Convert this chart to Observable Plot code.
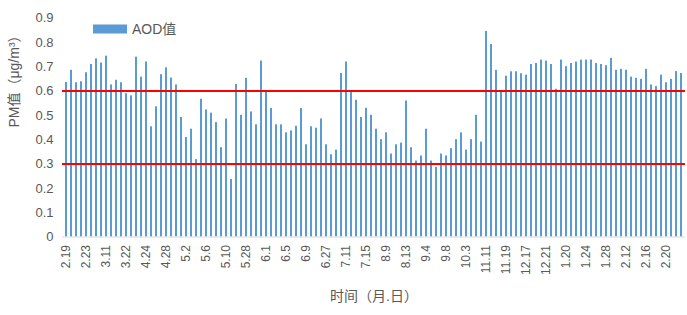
<!DOCTYPE html>
<html>
<head>
<meta charset="utf-8">
<script src="https://cdn.jsdelivr.net/npm/d3@7"></script>
<script src="https://cdn.jsdelivr.net/npm/@observablehq/plot@0.6"></script>
<style>
  html, body { margin: 0; padding: 0; background: #fff; }
  #chart { width: 687px; height: 315px; overflow: hidden; }
</style>
</head>
<body>
<div id="chart"></div>
<script>
// AOD values, one per observation date (124 bars)
const aodValues = [
  0.635,0.685,0.634,0.638,0.675,0.709,0.732,0.715,0.743,0.625,
  0.644,0.634,0.589,0.580,0.739,0.657,0.719,0.453,0.535,0.667,
  0.695,0.653,0.625,0.491,0.409,0.443,0.318,0.566,0.522,0.509,
  0.470,0.367,0.485,0.236,0.627,0.500,0.652,0.514,0.461,0.723,
  0.600,0.528,0.461,0.461,0.428,0.436,0.455,0.528,0.379,0.453,
  0.447,0.485,0.379,0.338,0.357,0.672,0.719,0.596,0.562,0.491,
  0.529,0.500,0.443,0.400,0.428,0.341,0.379,0.386,0.559,0.367,
  0.312,0.333,0.443,0.312,0.286,0.341,0.333,0.363,0.400,0.428,
  0.357,0.400,0.500,0.390,0.845,0.791,0.685,0.600,0.661,0.679,
  0.679,0.671,0.665,0.709,0.713,0.727,0.723,0.709,0.607,0.727,
  0.700,0.713,0.719,0.727,0.727,0.727,0.713,0.709,0.704,0.734,
  0.685,0.689,0.685,0.657,0.652,0.648,0.689,0.625,0.618,0.665,
  0.634,0.648,0.680,0.672
];
// Visible date tick labels (every 4th bar)
const tickLabels = [
  "2.19","2.23","3.11","3.22","4.24","4.28","5.2","5.6","5.10","5.28",
  "6.1","6.5","6.9","6.27","7.11","7.15","8.9","8.13","9.4","9.8",
  "10.3","11.11","11.19","12.17","12.21","1.20","1.24","1.28","2.12","2.16","2.20"
];
const tickEvery = 4;
const thresholds = [0.3, 0.6];
const yTicks = [0,0.1,0.2,0.3,0.4,0.5,0.6,0.7,0.8,0.9];
const seriesName = "AOD值";
const xTitle = "时间（月.日）";
const yTitle = "PM值（μg/m³）";

const data = aodValues.map((v, i) => ({i, v}));
const tickIdx = tickLabels.map((_, k) => k * tickEvery);

const font = "'Liberation Sans', 'Noto Sans CJK SC', sans-serif";
const grey = "#595959";

const plot = Plot.plot({
  width: 687,
  height: 315,
  marginLeft: 62,
  marginRight: 2,
  marginTop: 17.5,
  marginBottom: 78.5,
  style: {fontFamily: font, fontSize: "12px", color: grey, background: "#fff"},
  x: {type: "band", domain: d3.range(aodValues.length), padding: 0.6, label: null},
  y: {domain: [0, 0.9], label: null},
  marks: [
    Plot.barY(data, {x: "i", y: "v", fill: "#5B9BD5"}),
    Plot.ruleY([0], {stroke: "#D9D9D9", strokeWidth: 1}),
    Plot.ruleY(thresholds, {stroke: "#FF0000", strokeWidth: 2}),
    Plot.axisY({ticks: yTicks, tickSize: 0, tickPadding: 9, fontSize: 13, label: null,
      tickFormat: d => d === 0 ? "0" : d.toFixed(1)}),
    Plot.axisX({ticks: tickIdx, tickSize: 0, tickPadding: 8, tickRotate: -90, fontSize: 12, label: null,
      tickFormat: i => tickLabels[i / tickEvery]}),
    Plot.text([yTitle], {frameAnchor: "left", rotate: -90, dx: -48, fontSize: 14, fill: grey}),
    Plot.text([xTitle], {frameAnchor: "bottom", dy: 63.5, fontSize: 14, fill: grey})
  ]
});

// legend inside plot area (top-left)
const svg = d3.select(plot);
const lg = svg.append("g").attr("font-family", font);
lg.append("rect").attr("x", 93).attr("y", 24.5).attr("width", 34).attr("height", 9).attr("fill", "#5B9BD5");
lg.append("text").attr("x", 132).attr("y", 29).attr("dy", "0.35em").attr("font-size", 14)
  .attr("text-anchor", "start").attr("fill", grey).text(seriesName);

document.getElementById("chart").appendChild(plot);
</script>
</body>
</html>
